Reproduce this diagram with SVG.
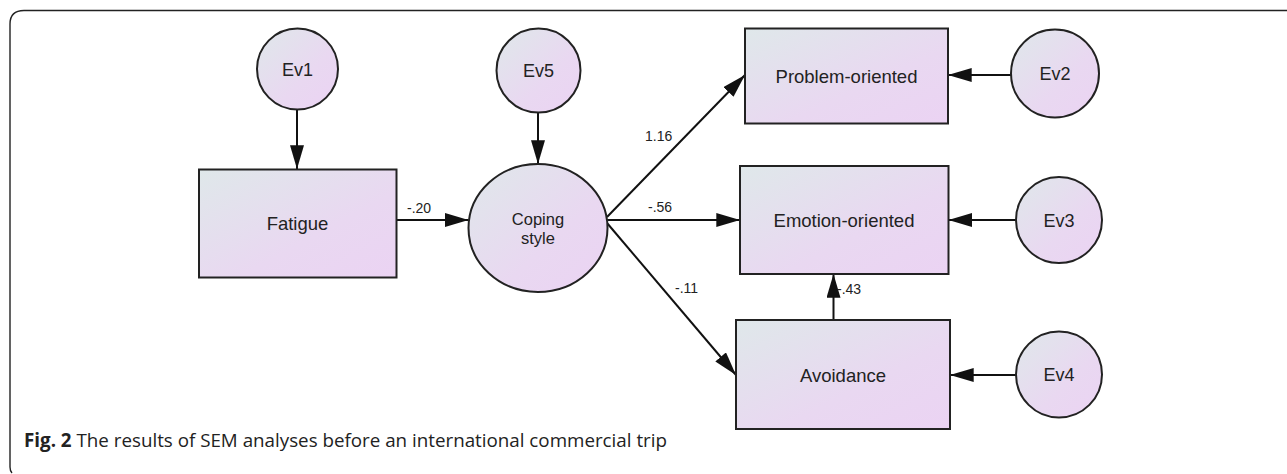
<svg xmlns="http://www.w3.org/2000/svg" width="1287" height="474" viewBox="0 0 1287 474">
<defs>
<linearGradient id="g" x1="0" y1="0" x2="1" y2="1">
<stop offset="0" stop-color="#dfe8ea"/>
<stop offset="0.6" stop-color="#e9d8f1"/>
<stop offset="1" stop-color="#ebd3f3"/>
</linearGradient>
<marker id="ah" markerUnits="userSpaceOnUse" markerWidth="24" markerHeight="14" refX="22" refY="6.5" orient="auto" viewBox="0 0 22 13">
<path d="M0,0 L22,6.5 L0,13 Z" fill="#111"/>
</marker>
<style>
.box{fill:url(#g);stroke:#222;stroke-width:2}
.lbl{font-family:"Liberation Sans",Arial,sans-serif;font-size:18.5px;fill:#222;text-anchor:middle}
.ev{font-family:"Liberation Sans",Arial,sans-serif;font-size:18px;fill:#222;text-anchor:middle}
.num{font-family:"Liberation Sans",Arial,sans-serif;font-size:14px;fill:#222}
.edge{stroke:#111;stroke-width:2;fill:none;marker-end:url(#ah)}
.cap{font-family:"Open Sans","Liberation Sans",sans-serif;font-size:19px;fill:#222}
</style>
</defs>
<rect width="1287" height="474" fill="#fff"/>
<path d="M12,473 Q10,471 10,467 L10,24 Q10,10.5 24,10.5 L1287,10.5" fill="none" stroke="#222" stroke-width="1.4"/>
<g id="connectors">
<line class="edge" x1="297" y1="109" x2="297" y2="169"/>
<line class="edge" x1="538" y1="112.5" x2="538" y2="164"/>
<line class="edge" x1="397" y1="220" x2="468.5" y2="220"/>
<line class="edge" x1="607" y1="217" x2="745" y2="75"/>
<line class="edge" x1="607" y1="220" x2="740" y2="220"/>
<line class="edge" x1="607" y1="223" x2="736" y2="375"/>
<line class="edge" x1="1011" y1="75" x2="948" y2="75"/>
<line class="edge" x1="1016" y1="220" x2="948.5" y2="220"/>
<line class="edge" x1="1016" y1="375" x2="950" y2="375"/>
<line class="edge" x1="833.5" y1="320" x2="833.5" y2="274"/>
<text class="num" x="407" y="213">-.20</text>
<text class="num" x="645" y="141">1.16</text>
<text class="num" x="648" y="212">-.56</text>
<text class="num" x="675" y="293">-.11</text>
<text class="num" x="837" y="294">-.43</text>
</g>
<g id="Ev1"><circle class="box" cx="297.5" cy="69" r="40.5"/><text class="ev" x="297.5" y="75.5">Ev1</text></g>
<g id="Ev5"><circle class="box" cx="538.5" cy="70.5" r="42"/><text class="ev" x="538.5" y="77">Ev5</text></g>
<g id="Fatigue"><rect class="box" x="199" y="169.5" width="197.5" height="108"/><text class="lbl" x="297.5" y="230">Fatigue</text></g>
<g id="Coping"><ellipse class="box" cx="538" cy="228" rx="69.5" ry="64"/><text class="ev" style="font-size:16.5px" x="538" y="225">Coping</text><text class="ev" style="font-size:16.5px" x="538" y="243.5">style</text></g>
<g id="Problem"><rect class="box" x="745" y="28.5" width="203" height="95"/><text class="lbl" x="846.5" y="83">Problem-oriented</text></g>
<g id="Emotion"><rect class="box" x="740" y="166" width="208.5" height="108"/><text class="lbl" x="844" y="227">Emotion-oriented</text></g>
<g id="Avoidance"><rect class="box" x="736" y="320" width="214" height="109"/><text class="lbl" x="843" y="381.5">Avoidance</text></g>
<g id="Ev2"><circle class="box" cx="1055" cy="73.5" r="44"/><text class="ev" x="1055" y="80">Ev2</text></g>
<g id="Ev3"><circle class="box" cx="1059" cy="220" r="43"/><text class="ev" x="1059" y="226.5">Ev3</text></g>
<g id="Ev4"><circle class="box" cx="1059" cy="374.5" r="43"/><text class="ev" x="1059" y="381">Ev4</text></g>
<text class="cap" x="24" y="447" textLength="643" lengthAdjust="spacingAndGlyphs"><tspan font-weight="bold">Fig. 2</tspan> The results of SEM analyses before an international commercial trip</text>
</svg>
